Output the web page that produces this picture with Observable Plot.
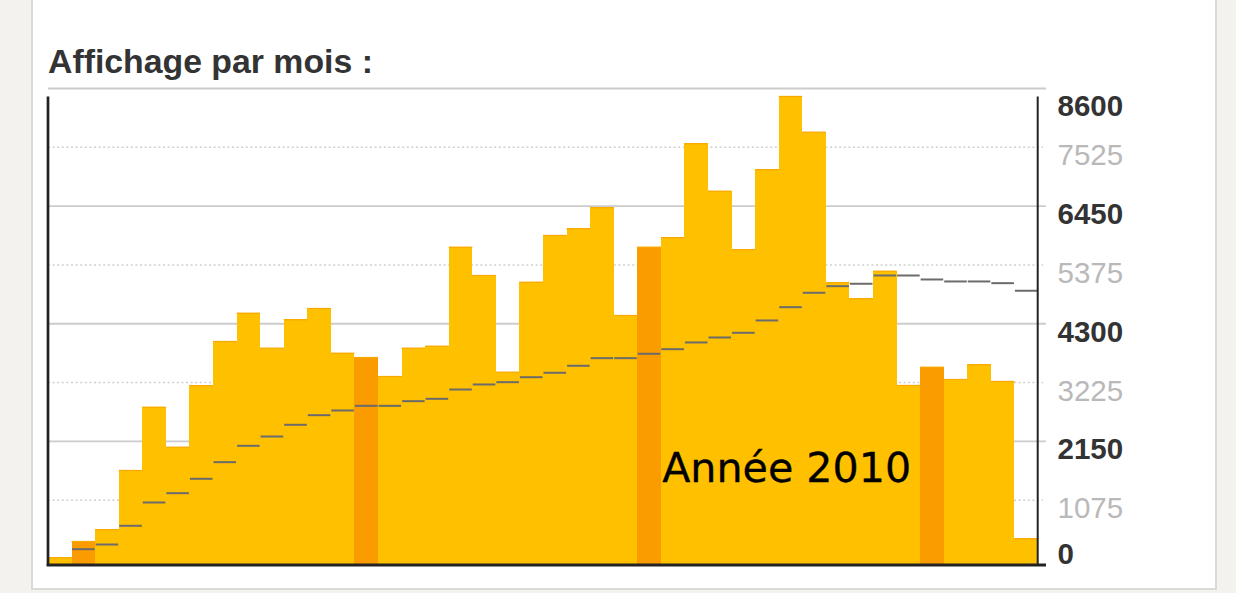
<!DOCTYPE html>
<html>
<head>
<meta charset="utf-8">
<script src="https://cdn.jsdelivr.net/npm/d3@7"></script>
<script src="https://cdn.jsdelivr.net/npm/@observablehq/plot@0.6"></script>
<style>
  html, body { margin: 0; padding: 0; }
  body { width: 1236px; height: 593px; overflow: hidden; background: #f3f2ee; position: relative; }
  #panel { position: absolute; left: 31px; top: -3px; width: 1186px; height: 593px; box-sizing: border-box;
           border: 2px solid #dadada; background: #ffffff; }
  #title { position: absolute; left: 48px; top: 45px; font-family: "Liberation Sans", Arial, sans-serif;
           font-weight: bold; font-size: 33.8px; line-height: 33px; color: #333333; white-space: nowrap; }
  #chart { position: absolute; left: 0; top: 0; }
</style>
</head>
<body>
<div id="panel"></div>
<div id="title">Affichage par mois :</div>
<div id="chart"></div>
<script>
// Categories: months from Dec 2007 to May 2011
const months = [
  "2007-12",
  "2008-01","2008-02","2008-03","2008-04","2008-05","2008-06","2008-07","2008-08","2008-09","2008-10","2008-11","2008-12",
  "2009-01","2009-02","2009-03","2009-04","2009-05","2009-06","2009-07","2009-08","2009-09","2009-10","2009-11","2009-12",
  "2010-01","2010-02","2010-03","2010-04","2010-05","2010-06","2010-07","2010-08","2010-09","2010-10","2010-11","2010-12",
  "2011-01","2011-02","2011-03","2011-04","2011-05"
];
// Monthly page views (bars)
const views = [
  22,
  320, 534, 1618, 2775, 2044, 3166, 3976, 4493, 3854, 4372, 4579, 3762,
  3683, 3336, 3854, 3890, 5700, 5182, 3415, 5060, 5914, 6036, 6420, 4451,
  5700, 5871, 7590, 6724, 5652, 7114, 8455, 7802, 5049, 4756, 5261, 3172,
  3506, 3281, 3550, 3245, 369
];
// Running average (grey step segments)
const average = [
  null,
  179, 265, 607, 1033, 1203, 1466, 1770, 2069, 2239, 2453, 2629, 2715,
  2800, 2800, 2885, 2928, 3098, 3190, 3232, 3323, 3404, 3532, 3671, 3671,
  3751, 3835, 3958, 4049, 4135, 4360, 4603, 4866, 4987, 5031, 5182, 5182,
  5109, 5073, 5073, 5042, 4903
];
// Axis ticks
const majorTicks = [2150, 4300, 6450];
const minorTicks = [1075, 3225, 5375, 7525];
const topTick = [8600];
const zeroTick = [0];
const gridMajor = [2150, 4300, 6450, 8600];
// Annotation
const annotations = [{month: "2010-01", label: "Année 2010"}];

const data = months.map((m, i) => ({month: m, views: views[i], avg: average[i]}));
const avgData = data.filter(d => d.avg != null);

const YELLOW = "#ffc000";
const ORANGE = "#fa9c00";
const font = "'Liberation Sans', Arial, sans-serif";

const frameLines = (index, scales, values, dims) => {
  const g = d3.create("svg:g");
  const xl = dims.marginLeft, xr = dims.width - dims.marginRight;
  const yt = scales.y(8600) + 8.5, yb = scales.y(0) + 7.5;
  g.append("line").attr("x1", xl).attr("x2", xl).attr("y1", yt).attr("y2", yb)
    .attr("stroke", "#222").attr("stroke-width", 2.7);
  g.append("line").attr("x1", xr - 0.3).attr("x2", xr - 0.3).attr("y1", yt).attr("y2", yb)
    .attr("stroke", "#222").attr("stroke-width", 2);
  return g.node();
};

const chart = Plot.plot({
  width: 1236,
  height: 593,
  marginLeft: 48,
  marginRight: 198,
  marginTop: 88,
  marginBottom: 34.5,
  style: {fontFamily: font, background: "transparent", overflow: "visible"},
  x: {type: "band", domain: months, padding: 0, round: false, axis: null},
  y: {domain: [0, 8600], axis: null},
  marks: [
    Plot.ruleY(minorTicks, {stroke: "#cfcfcf", strokeWidth: 1.4, strokeDasharray: "2,2.6", insetRight: -5}),
    Plot.ruleY(gridMajor, {stroke: "#cccccc", strokeWidth: 1.8, insetRight: -8}),
    Plot.barY(data, {x: "month", y: "views", insetBottom: -5,
      fill: d => d.month.endsWith("-01") ? ORANGE : YELLOW, shapeRendering: "crispEdges"}),
    Plot.tickY(data, {x: "month", y: "views", stroke: "#f8a800", strokeWidth: 1.2}),
    Plot.tickY(avgData, {x: "month", y: "avg", stroke: "#6b6b6b", strokeWidth: 2, insetLeft: 0.5, insetRight: 0.5}),
    Plot.ruleY(zeroTick, {dy: 6, stroke: "#222", strokeWidth: 3, insetLeft: -1.3, insetRight: -8}),
    frameLines,
    Plot.text(annotations, {x: "month", y: () => 1640, text: "label", textAnchor: "start", dx: 12.6,
      fontFamily: "'DejaVu Sans', sans-serif", fontSize: 41.2, fill: "#000", stroke: "#000", strokeWidth: 0.3}),
    Plot.text(majorTicks, {y: d => d, text: d => String(d), frameAnchor: "right", textAnchor: "start",
      dx: 19, dy: 8.5, fontSize: 29.5, fontWeight: "bold", fill: "#333"}),
    Plot.text(minorTicks, {y: d => d, text: d => String(d), frameAnchor: "right", textAnchor: "start",
      dx: 19, dy: 8.5, fontSize: 29.5, fill: "#b9b9b9"}),
    Plot.text(topTick, {y: d => d, text: d => String(d), frameAnchor: "right", textAnchor: "start",
      dx: 19, dy: 18, fontSize: 29.5, fontWeight: "bold", fill: "#333"}),
    Plot.text(zeroTick, {y: d => d, text: d => String(d), frameAnchor: "right", textAnchor: "start",
      dx: 19, dy: -4, fontSize: 29.5, fontWeight: "bold", fill: "#333"})
  ]
});
document.getElementById("chart").appendChild(chart);
</script>
</body>
</html>
